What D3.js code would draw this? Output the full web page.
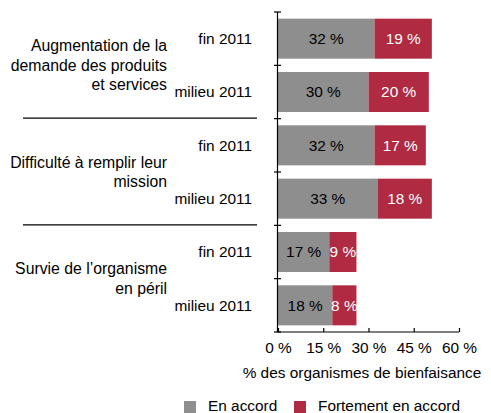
<!DOCTYPE html>
<html>
<head>
<meta charset="utf-8">
<script src="https://cdn.jsdelivr.net/npm/d3@7"></script>
<style>
  html, body { margin: 0; padding: 0; background: #fff; }
  text { font-family: "Liberation Sans", Arial, Helvetica, sans-serif; }
</style>
</head>
<body>
<svg id="chart" width="491" height="413"></svg>
<script>
const groups = [
  ["Augmentation de la", "demande des produits", "et services"],
  ["Difficulté à remplir leur", "mission"],
  ["Survie de l’organisme", "en péril"]
];
const periods = ["fin 2011", "milieu 2011"];
const enAccord = [32, 30, 32, 33, 17, 18];
const fortement = [19, 20, 17, 18, 9, 8];
const xTicks = [0, 15, 30, 45, 60];
const seriesNames = ["En accord", "Fortement en accord"];
const colors = ["#8e8e8e", "#b02a42"];
const xTitle = "% des organismes de bienfaisance";

const FS = 15.4;
const rows = [];
groups.forEach((g, gi) => periods.forEach((p, pi) => {
  const i = gi * periods.length + pi;
  rows.push({ id: i, group: gi, period: p, a: enAccord[i], b: fortement[i] });
}));

const svg = d3.select("#chart");
const x = d3.scaleLinear().domain([0, 60]).range([278, 459]);
const y = d3.scaleBand().domain(rows.map(r => r.id)).range([12, 332])
  .paddingInner(0.25).paddingOuter(0.125);
const step = y.step();

// bars
const bar = svg.append("g").selectAll("g").data(rows).join("g");
bar.append("rect")
  .attr("x", x(0)).attr("y", d => y(d.id))
  .attr("width", d => x(d.a) - x(0)).attr("height", y.bandwidth())
  .attr("fill", colors[0]);
bar.append("rect")
  .attr("x", d => x(d.a)).attr("y", d => y(d.id))
  .attr("width", d => x(d.a + d.b) - x(d.a)).attr("height", y.bandwidth())
  .attr("fill", colors[1]);
bar.append("text")
  .attr("x", d => (x(0) + x(d.a)) / 2).attr("y", d => y(d.id) + y.bandwidth() / 2)
  .attr("dy", "0.35em").attr("text-anchor", "middle")
  .attr("font-size", FS).attr("fill", "#000")
  .text(d => d.a + " %");
bar.append("text")
  .attr("x", d => (x(d.a) + x(d.a + d.b)) / 2).attr("y", d => y(d.id) + y.bandwidth() / 2)
  .attr("dy", "0.35em").attr("text-anchor", "middle")
  .attr("font-size", FS).attr("fill", "#fff")
  .text(d => d.b + " %");

// y axis line and ticks at band boundaries
const y0 = 12, y1 = 332;
svg.append("line").attr("x1", x(0) - 0.5).attr("x2", x(0) - 0.5)
  .attr("y1", y0).attr("y2", y1).attr("stroke", "#000").attr("stroke-width", 1.2);
d3.range(rows.length + 1).forEach(i => {
  const yy = y0 + i * step;
  svg.append("line").attr("x1", x(0) - 4).attr("x2", x(0) + 3)
    .attr("y1", yy).attr("y2", yy).attr("stroke", "#000").attr("stroke-width", 1.2);
});

// x axis
const xAxis = d3.axisBottom(x).tickValues(xTicks).tickSize(-4).tickPadding(10)
  .tickFormat(d => d + " %");
const gx = svg.append("g").attr("transform", `translate(0,${y1})`).call(xAxis);
gx.select(".domain").attr("d", `M${x(0) - 0.5},0H${x(60)}`).attr("stroke", "#000").attr("stroke-width", 1.2);
gx.selectAll(".tick line").attr("stroke", "#000").attr("stroke-width", 1.2);
gx.selectAll(".tick text").attr("font-size", FS).attr("fill", "#000")
  .attr("font-family", "Liberation Sans, Arial, sans-serif");

svg.append("text").attr("x", 362).attr("y", 378).attr("text-anchor", "middle")
  .attr("font-size", FS).attr("fill", "#000").text(xTitle);

// period labels
bar.append("text")
  .attr("x", 252).attr("y", d => y(d.id) + y.bandwidth() / 2)
  .attr("dy", "0.35em").attr("text-anchor", "end")
  .attr("font-size", FS).attr("fill", "#000")
  .text(d => d.period);

// group labels
groups.forEach((g, gi) => {
  const top = y0 + gi * periods.length * step;
  const cy = top + periods.length * step / 2;
  const lh = 19.5;
  const t = svg.append("text").attr("text-anchor", "end").attr("font-size", 15.8).attr("fill", "#000");
  g.forEach((line, li) => {
    t.append("tspan").attr("x", 167)
      .attr("y", cy + (li - (g.length - 1) / 2) * lh)
      .attr("dy", "0.35em").text(line);
  });
  if (gi > 0) {
    svg.append("line").attr("x1", 23).attr("x2", 257)
      .attr("y1", top - 0.5).attr("y2", top - 0.5)
      .attr("stroke", "#000").attr("stroke-width", 1.2);
  }
});

// legend
const legendX = [184, 294];
seriesNames.forEach((s, i) => {
  svg.append("rect").attr("x", legendX[i]).attr("y", 401).attr("width", 12).attr("height", 12)
    .attr("fill", colors[i]);
  svg.append("text").attr("x", legendX[i] + 24).attr("y", 411)
    .attr("font-size", FS).attr("fill", "#000").text(s);
});
</script>
</body>
</html>
